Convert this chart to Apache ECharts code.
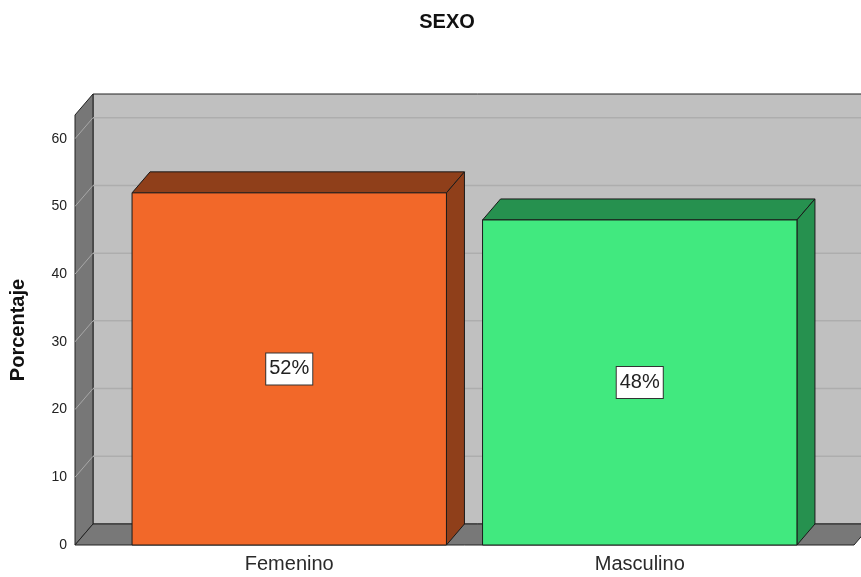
<!DOCTYPE html>
<html>
<head>
<meta charset="utf-8">
<script src="https://cdn.jsdelivr.net/npm/echarts@6/dist/echarts.min.js"></script>
<style>html,body{margin:0;padding:0;background:#fff;}#c{width:861px;height:577px;}</style>
</head>
<body>
<div id="c"></div>
<script>
const titleText = 'SEXO';
const yAxisName = 'Porcentaje';
const categories = ['Femenino', 'Masculino'];
const values = [52, 48];
const valueLabels = ['52%', '48%'];
const yTicks = [0, 10, 20, 30, 40, 50, 60];
const frontColors = ['#F26829', '#41E97F'];
const sideColors = ['#8F3F1A', '#26914F'];

const FONT = 'Arial, "Liberation Sans", sans-serif';
const DX = 18, DY = -21, PAD = 39, BAR_RATIO = 0.897;

const chart = echarts.init(document.getElementById('c'));

function renderWalls(params, api) {
  const cs = params.coordSys;
  const fx0 = cs.x - PAD, fx1 = cs.x + cs.width + PAD;
  const fy0 = cs.y, fy1 = cs.y + cs.height;
  const children = [];
  children.push({ type: 'rect', shape: { x: fx0 + DX, y: fy0 + DY, width: fx1 - fx0, height: fy1 - fy0 },
    style: { fill: '#C0C0C0', stroke: '#222', lineWidth: 1 } });
  children.push({ type: 'polygon', shape: { points: [[fx0, fy0], [fx0 + DX, fy0 + DY], [fx0 + DX, fy1 + DY], [fx0, fy1]] },
    style: { fill: '#777777', stroke: '#222', lineWidth: 1 } });
  children.push({ type: 'polygon', shape: { points: [[fx0, fy1], [fx0 + DX, fy1 + DY], [fx1 + DX, fy1 + DY], [fx1, fy1]] },
    style: { fill: '#787878', stroke: '#222', lineWidth: 1 } });
  yTicks.forEach(function (v) {
    if (v === 0) return;
    const y = api.coord([0, v])[1];
    children.push({ type: 'line', shape: { x1: fx0 + DX, y1: y + DY, x2: fx1 + DX, y2: y + DY },
      style: { stroke: '#ADADAD', lineWidth: 1.5 } });
    children.push({ type: 'line', shape: { x1: fx0, y1: y, x2: fx0 + DX, y2: y + DY },
      style: { stroke: '#A8A8A8', lineWidth: 1 } });
  });
  return { type: 'group', children: children };
}

function renderBar(params, api) {
  const idx = api.value(0);
  const val = api.value(1);
  const top = api.coord([idx, val]);
  const base = api.coord([idx, 0]);
  const w = api.size([1, 0])[0] * BAR_RATIO;
  const x0 = top[0] - w / 2, x1 = top[0] + w / 2;
  const yT = top[1], yB = base[1];
  const stroke = { stroke: '#1A1A1A', lineWidth: 1 };
  return {
    type: 'group',
    children: [
      { type: 'polygon', shape: { points: [[x0, yT], [x0 + DX, yT + DY], [x1 + DX, yT + DY], [x1, yT]] },
        style: Object.assign({ fill: sideColors[params.dataIndex] }, stroke) },
      { type: 'polygon', shape: { points: [[x1, yT], [x1 + DX, yT + DY], [x1 + DX, yB + DY], [x1, yB]] },
        style: Object.assign({ fill: sideColors[params.dataIndex] }, stroke) },
      { type: 'rect', shape: { x: x0, y: yT, width: w, height: yB - yT },
        style: Object.assign({ fill: frontColors[params.dataIndex] }, stroke) },
      { type: 'text', x: top[0], y: (yT + yB) / 2,
        style: { text: valueLabels[params.dataIndex], font: '20px ' + FONT, fill: '#222',
          align: 'center', verticalAlign: 'middle', backgroundColor: '#fff',
          borderColor: '#333', borderWidth: 1, padding: [6, 3, 5, 3] } }
    ]
  };
}

chart.setOption({
  animation: false,
  backgroundColor: '#fff',
  title: { text: titleText, left: 442, top: 7, textAlign: 'center',
    textStyle: { fontFamily: FONT, fontSize: 20, fontWeight: 'bold', color: '#111' } },
  grid: { left: 113, right: 46, top: 115, bottom: 32, containLabel: false },
  xAxis: { type: 'category', data: categories,
    axisLine: { show: false }, axisTick: { show: false },
    axisLabel: { fontFamily: FONT, fontSize: 20, color: '#2a2a2a', margin: 9 },
    splitLine: { show: false } },
  yAxis: { type: 'value', min: 0, max: 63.5, interval: 10,
    name: yAxisName, nameLocation: 'middle', nameGap: 86, nameRotate: 90,
    nameTextStyle: { fontFamily: FONT, fontSize: 20, fontWeight: 'bold', color: '#111' },
    axisLine: { show: false }, axisTick: { show: false }, splitLine: { show: false },
    axisLabel: { fontFamily: FONT, fontSize: 14, color: '#222', margin: 47,
      padding: [6, 0, 0, 0], showMaxLabel: false,
      formatter: function (v) { return yTicks.indexOf(v) >= 0 ? String(v) : ''; } } },
  series: [
    { type: 'custom', z: 1, renderItem: renderWalls, data: [[0, 0]], silent: true },
    { type: 'custom', z: 2, renderItem: renderBar,
      data: categories.map(function (c, i) { return [i, values[i]]; }) }
  ]
});
</script>
</body>
</html>
